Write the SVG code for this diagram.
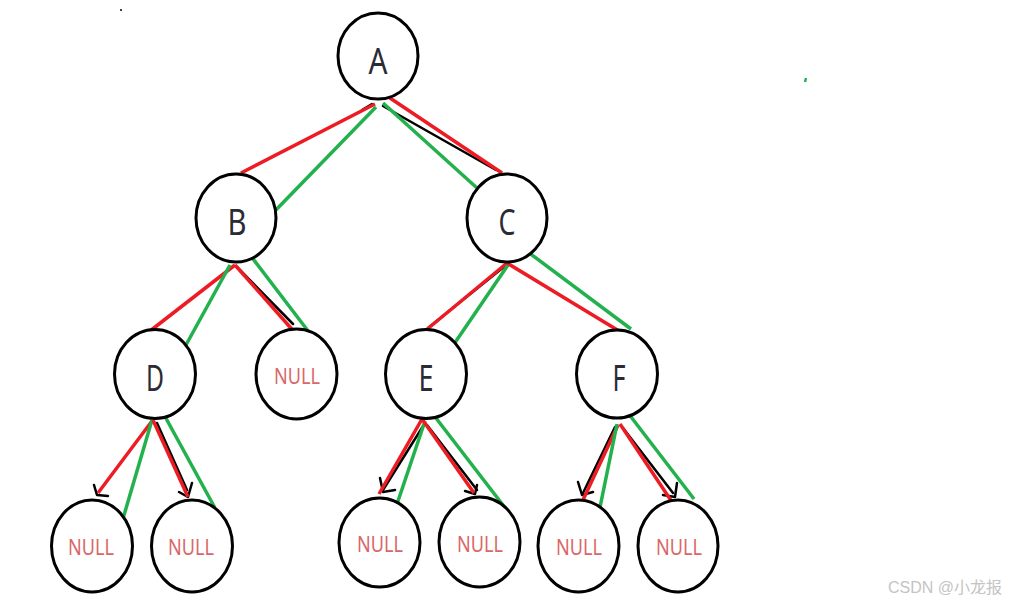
<svg xmlns="http://www.w3.org/2000/svg" width="1022" height="606" viewBox="0 0 1022 606">
<style>
.n{fill:#fff;stroke:#000;stroke-width:3}
.lbl{font-family:"Noto Sans","Open Sans",sans-serif;font-size:37px;fill:#2b2b36;text-anchor:middle}
.nul{font-family:"Noto Sans","Open Sans",sans-serif;font-size:21px;fill:#d9676a;text-anchor:middle}
.r{stroke:#ed1c24;stroke-width:3.5;fill:none;stroke-linecap:butt}
.g{stroke:#22b14c;stroke-width:3.5;fill:none}
.k{stroke:#000;stroke-width:2.5;fill:none;stroke-linecap:round;stroke-linejoin:round}
.wm{font-family:"Liberation Sans",Arial,"Noto Sans CJK SC",sans-serif;font-size:16px;fill:#c4c4c4}
</style>
<rect width="1022" height="606" fill="#fff"/>
<g id="connectors">
<line class="k" x1="372" y1="104" x2="362" y2="110"/>
<line class="k" x1="383" y1="106" x2="496" y2="170"/>
<line class="k" x1="237" y1="267" x2="293" y2="324"/>
<line class="k" x1="505" y1="266" x2="428" y2="328"/>
<line class="k" x1="157" y1="423" x2="187" y2="490"/>
<path class="k" d="M179,492 L188,497 L192,483"/>
<path class="k" d="M94,485 L97,495 L108,496"/>
<line class="k" x1="425" y1="423" x2="383" y2="490"/>
<path class="k" d="M380,478 L383,492 L395,490"/>
<line class="k" x1="427" y1="425" x2="477" y2="490"/>
<path class="k" d="M465,491 L475,494 L477,485"/>
<line class="k" x1="615" y1="427" x2="583" y2="493"/>
<path class="k" d="M578,482 L582,495 L593,492"/>
<line class="k" x1="623" y1="428" x2="673" y2="493"/>
<path class="k" d="M663,495 L675,497 L677,483"/>
<line class="r" x1="375" y1="104" x2="241" y2="173"/>
<line class="g" x1="376" y1="107" x2="271" y2="215"/>
<line class="r" x1="384" y1="94" x2="502" y2="173"/>
<line class="g" x1="383" y1="103" x2="477" y2="188"/>
<line class="r" x1="235" y1="265" x2="150" y2="331"/>
<line class="g" x1="230" y1="265" x2="181" y2="354"/>
<line class="r" x1="235" y1="265" x2="297" y2="335"/>
<line class="g" x1="250" y1="255" x2="318" y2="344"/>
<line class="r" x1="507" y1="263" x2="425" y2="331"/>
<line class="g" x1="508" y1="265" x2="452" y2="347"/>
<line class="r" x1="507" y1="263" x2="619" y2="331"/>
<line class="g" x1="528" y1="252" x2="631" y2="329"/>
<line class="r" x1="152" y1="421" x2="98" y2="493"/>
<line class="g" x1="152" y1="420" x2="122" y2="522"/>
<line class="r" x1="153" y1="420" x2="188" y2="497"/>
<line class="g" x1="162" y1="411" x2="215" y2="508"/>
<line class="r" x1="422" y1="419" x2="379" y2="494"/>
<line class="g" x1="425" y1="421" x2="397" y2="504"/>
<line class="r" x1="422" y1="419" x2="474" y2="493"/>
<line class="g" x1="429" y1="409" x2="506" y2="509"/>
<line class="r" x1="618" y1="425" x2="583" y2="500"/>
<line class="g" x1="617" y1="424" x2="597" y2="522"/>
<line class="r" x1="620" y1="424" x2="674" y2="505"/>
<line class="g" x1="628" y1="413" x2="694" y2="499"/>
</g>
<g id="node-A"><ellipse class="n" cx="378" cy="56" rx="40" ry="43"/><text class="lbl" x="378" y="74" textLength="19" lengthAdjust="spacingAndGlyphs">A</text></g>
<g id="node-B"><ellipse class="n" cx="236" cy="218" rx="40" ry="44"/><text class="lbl" x="237" y="235" textLength="19" lengthAdjust="spacingAndGlyphs">B</text></g>
<g id="node-C"><ellipse class="n" cx="507" cy="218" rx="40" ry="44"/><text class="lbl" x="507" y="235" textLength="17" lengthAdjust="spacingAndGlyphs">C</text></g>
<g id="node-D"><ellipse class="n" cx="155" cy="374" rx="40.5" ry="44.5"/><text class="lbl" x="155" y="391" textLength="18" lengthAdjust="spacingAndGlyphs">D</text></g>
<g id="node-B-null"><ellipse class="n" cx="296.5" cy="374" rx="40.5" ry="45"/><text class="nul" x="297" y="384" textLength="46" lengthAdjust="spacingAndGlyphs">NULL</text></g>
<g id="node-E"><ellipse class="n" cx="426" cy="374" rx="40.5" ry="44.5"/><text class="lbl" x="426" y="391" textLength="15" lengthAdjust="spacingAndGlyphs">E</text></g>
<g id="node-F"><ellipse class="n" cx="617" cy="374" rx="40.5" ry="44"/><text class="lbl" x="619" y="391" textLength="13" lengthAdjust="spacingAndGlyphs">F</text></g>
<g id="node-D-null-l"><ellipse class="n" cx="92" cy="546" rx="40.5" ry="46"/><text class="nul" x="91" y="555" textLength="46" lengthAdjust="spacingAndGlyphs">NULL</text></g>
<g id="node-D-null-r"><ellipse class="n" cx="192" cy="546" rx="40.5" ry="46"/><text class="nul" x="191" y="555" textLength="46" lengthAdjust="spacingAndGlyphs">NULL</text></g>
<g id="node-E-null-l"><ellipse class="n" cx="379.5" cy="542.5" rx="40.5" ry="44.5"/><text class="nul" x="380" y="552" textLength="46" lengthAdjust="spacingAndGlyphs">NULL</text></g>
<g id="node-E-null-r"><ellipse class="n" cx="479.5" cy="542" rx="40.5" ry="45"/><text class="nul" x="480" y="552" textLength="46" lengthAdjust="spacingAndGlyphs">NULL</text></g>
<g id="node-F-null-l"><ellipse class="n" cx="578.5" cy="546" rx="40.5" ry="46"/><text class="nul" x="579" y="555" textLength="46" lengthAdjust="spacingAndGlyphs">NULL</text></g>
<g id="node-F-null-r"><ellipse class="n" cx="678" cy="546" rx="40" ry="46"/><text class="nul" x="679" y="555" textLength="46" lengthAdjust="spacingAndGlyphs">NULL</text></g>
<circle cx="121" cy="10" r="1" fill="#000"/>
<line x1="806" y1="78" x2="805" y2="82" stroke="#22b14c" stroke-width="2.5"/>
<text class="wm" x="888" y="593">CSDN @小龙报</text>
</svg>
